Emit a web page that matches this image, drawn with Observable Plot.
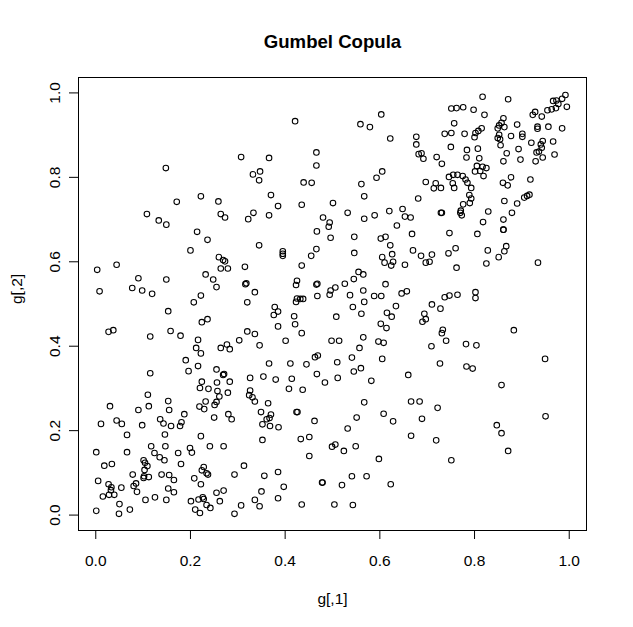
<!DOCTYPE html>
<html>
<head>
<meta charset="utf-8">
<script src="https://cdn.jsdelivr.net/npm/d3@7"></script>
<script src="https://cdn.jsdelivr.net/npm/@observablehq/plot@0.6"></script>
<style>
  html, body { margin: 0; padding: 0; background: #ffffff; }
  #chart svg { display: block; }
</style>
</head>
<body>
<div id="chart"></div>
<script>
const title = "Gumbel Copula";
const xLabel = "g[,1]";
const yLabel = "g[,2]";
const tickValues = [0, 0.2, 0.4, 0.6, 0.8, 1.0];

// g[,1] values
const g1 = [
0.307,0.148,0.171,0.222,0.259,0.108,0.133,0.149,0.264,0.273,0.322,
0.603,0.421,0.559,0.579,0.622,0.677,0.677,0.682,0.366,0.466,0.466,0.332,0.347,0.345,0.439,0.456,0.605,0.593,0.561,0.370,0.567,0.385,0.435,0.501,0.681,0.333,0.366,0.480,0.494,0.492,0.532,0.567,0.589,0.620,0.648,0.653,0.665,0.636,
0.817,0.871,0.992,0.985,0.995,0.966,0.973,0.977,0.963,0.972,0.954,0.751,0.762,0.776,0.798,0.821,0.928,0.923,0.942,0.861,0.857,0.852,0.863,0.849,0.852,0.849,0.854,0.757,0.890,0.933,0.933,0.956,0.985,0.737,0.751,0.779,0.815,0.808,0.802,0.800,0.877,0.901,0.901,0.920,0.944,0.940,0.966,0.750,0.784,0.807,0.855,0.868,0.893,0.931,0.936,0.942,0.969,0.688,0.692,0.720,0.731,0.783,0.810,0.805,0.817,0.825,0.812,0.801,0.819,0.861,0.897,0.929,0.944,0.697,0.718,0.714,0.729,0.746,0.755,0.764,0.775,0.781,0.785,0.754,0.757,0.793,0.789,0.793,0.790,0.776,0.771,0.770,0.773,0.729,0.731,0.860,0.877,0.870,0.918,0.916,0.911,0.905,0.890,0.863,0.829,0.879,0.818,0.861,0.861,
0.214,0.236,0.200,0.003,0.044,0.008,0.090,0.077,0.098,0.119,0.149,0.260,0.269,0.273,0.264,0.279,0.315,0.232,0.248,0.255,0.316,0.318,0.222,0.207,0.320,0.153,0.224,0.236,0.027,0.037,0.115,0.158,0.179,0.216,0.212,0.222,0.264,0.277,0.283,0.303,0.320,0.190,0.115,0.196,0.216,0.255,0.269,0.271,
0.467,0.496,0.546,0.602,0.612,0.668,0.345,0.395,0.395,0.395,0.466,0.455,0.546,0.622,0.626,0.605,0.610,0.628,0.624,0.653,0.670,0.435,0.555,0.565,0.545,0.425,0.423,0.466,0.468,0.336,0.506,0.496,0.494,0.526,0.468,0.537,0.565,0.588,0.603,0.612,0.646,0.657,0.425,0.432,0.438,0.423,0.567,0.543,0.561,0.378,0.385,0.376,0.419,0.421,0.385,0.508,0.634,0.615,0.625,0.602,0.614,0.435,0.336,0.346,0.401,0.498,0.514,0.565,0.597,0.608,0.557,0.541,0.605,0.469,0.463,0.366,0.411,0.445,0.510,0.467,0.545,0.560,0.660,0.354,0.414,0.511,0.582,0.326,0.380,
0.747,0.806,0.861,0.687,0.697,0.705,0.710,0.745,0.760,0.762,0.828,0.825,0.867,0.863,0.851,0.934,0.737,0.747,0.764,0.802,0.802,0.710,0.728,0.694,0.697,0.690,0.733,0.731,0.740,0.883,0.709,0.782,0.804,0.949,0.727,0.783,0.796,
0.224,0.256,0.283,0.220,0.238,0.257,0.261,0.279,0.324,0.326,0.110,0.030,0.112,0.090,0.153,0.155,0.232,0.219,0.229,0.251,0.255,0.011,0.044,0.055,0.098,0.066,0.136,0.143,0.159,0.146,0.181,0.178,0.187,0.250,0.280,0.287,0.222,0.001,0.066,0.147,0.117,0.124,0.135,0.145,0.174,0.199,0.203,0.241,0.270,0.018,0.034,0.101,0.104,0.109,0.103,0.180,0.228,0.224,0.234,0.237,0.005,0.027,0.033,0.032,0.039,0.028,0.015,0.054,0.078,0.080,0.085,0.087,0.101,0.102,0.112,0.139,0.155,0.165,0.153,0.165,0.208,0.222,0.293,0.313,0.105,0.125,0.149,0.001,0.050,0.049,0.072,0.201,0.217,0.226,0.228,0.234,0.242,0.210,0.220,0.255,0.270,0.262,0.293,0.307,
0.484,0.331,0.336,0.408,0.437,0.364,0.349,0.370,0.361,0.367,0.368,0.352,0.386,0.352,0.424,0.426,0.462,0.433,0.451,0.451,0.499,0.506,0.524,0.549,0.532,0.551,0.567,0.608,0.628,0.598,0.666,0.684,0.666,0.356,0.385,0.397,0.350,0.336,0.346,0.385,0.435,0.478,0.479,0.520,0.541,0.572,0.623,0.504,0.543,
0.857,0.722,0.689,0.950,0.847,0.857,0.719,0.871,0.751
];

// g[,2] values
const g2 = [
0.848,0.822,0.742,0.755,0.743,0.713,0.698,0.688,0.713,0.705,0.701,
0.949,0.933,0.926,0.919,0.892,0.896,0.878,0.855,0.846,0.859,0.828,0.807,0.814,0.793,0.788,0.787,0.814,0.799,0.784,0.758,0.755,0.732,0.735,0.739,0.750,0.716,0.710,0.705,0.693,0.683,0.716,0.702,0.710,0.720,0.725,0.707,0.705,0.686,
0.991,0.985,0.995,0.986,0.967,0.981,0.982,0.974,0.961,0.964,0.959,0.963,0.964,0.966,0.960,0.948,0.955,0.948,0.944,0.940,0.929,0.923,0.919,0.916,0.901,0.893,0.890,0.928,0.925,0.920,0.915,0.920,0.916,0.903,0.905,0.903,0.916,0.910,0.905,0.895,0.898,0.903,0.896,0.882,0.886,0.878,0.885,0.872,0.865,0.868,0.876,0.857,0.867,0.859,0.861,0.870,0.854,0.857,0.844,0.848,0.832,0.847,0.845,0.827,0.825,0.822,0.815,0.814,0.803,0.838,0.842,0.838,0.847,0.789,0.786,0.774,0.775,0.801,0.806,0.806,0.803,0.795,0.787,0.786,0.775,0.775,0.758,0.750,0.739,0.736,0.721,0.716,0.710,0.716,0.716,0.787,0.800,0.781,0.795,0.759,0.756,0.752,0.738,0.744,0.719,0.716,0.694,0.700,0.676,
0.671,0.652,0.627,0.581,0.593,0.530,0.561,0.538,0.532,0.524,0.558,0.611,0.604,0.601,0.584,0.584,0.588,0.570,0.558,0.540,0.547,0.549,0.520,0.504,0.504,0.483,0.457,0.464,0.434,0.438,0.423,0.436,0.425,0.415,0.396,0.383,0.396,0.404,0.393,0.414,0.435,0.367,0.336,0.341,0.353,0.345,0.332,0.334,
0.672,0.657,0.659,0.655,0.659,0.666,0.639,0.625,0.619,0.614,0.630,0.614,0.621,0.639,0.618,0.611,0.598,0.600,0.591,0.593,0.627,0.591,0.576,0.570,0.559,0.555,0.545,0.546,0.548,0.528,0.539,0.532,0.522,0.548,0.519,0.521,0.532,0.519,0.519,0.547,0.525,0.530,0.513,0.512,0.512,0.505,0.505,0.493,0.477,0.493,0.482,0.474,0.471,0.452,0.447,0.470,0.495,0.479,0.470,0.453,0.443,0.431,0.429,0.402,0.413,0.413,0.413,0.421,0.411,0.408,0.396,0.373,0.370,0.378,0.374,0.359,0.359,0.357,0.362,0.334,0.340,0.348,0.332,0.328,0.323,0.325,0.318,0.325,0.321,
0.668,0.666,0.676,0.614,0.598,0.600,0.617,0.620,0.632,0.586,0.627,0.596,0.637,0.625,0.611,0.598,0.516,0.520,0.522,0.528,0.514,0.499,0.489,0.477,0.464,0.458,0.439,0.431,0.413,0.438,0.400,0.405,0.402,0.370,0.359,0.352,0.347,
0.316,0.314,0.316,0.301,0.299,0.294,0.281,0.290,0.284,0.295,0.285,0.258,0.258,0.249,0.270,0.249,0.269,0.257,0.251,0.261,0.268,0.216,0.224,0.216,0.213,0.190,0.227,0.217,0.211,0.191,0.220,0.211,0.239,0.231,0.239,0.227,0.187,0.149,0.149,0.163,0.163,0.147,0.137,0.130,0.147,0.159,0.148,0.163,0.163,0.117,0.121,0.130,0.124,0.116,0.107,0.121,0.114,0.106,0.099,0.096,0.081,0.073,0.066,0.059,0.048,0.048,0.044,0.065,0.096,0.069,0.075,0.055,0.088,0.092,0.090,0.096,0.095,0.083,0.063,0.054,0.087,0.073,0.096,0.117,0.036,0.042,0.036,0.010,0.026,0.003,0.013,0.033,0.037,0.042,0.038,0.024,0.017,0.013,0.005,0.053,0.058,0.033,0.003,0.023,
0.314,0.279,0.269,0.299,0.297,0.265,0.244,0.238,0.227,0.230,0.211,0.215,0.208,0.178,0.244,0.244,0.223,0.180,0.185,0.140,0.162,0.167,0.152,0.163,0.205,0.231,0.267,0.240,0.222,0.133,0.269,0.269,0.188,0.093,0.102,0.067,0.056,0.036,0.021,0.040,0.025,0.077,0.077,0.071,0.092,0.092,0.073,0.025,0.024,
0.308,0.254,0.228,0.234,0.213,0.194,0.177,0.152,0.130
];

const n = Math.min(g1.length, g2.length);
const points = d3.range(n).map(i => ({x: g1[i], y: g2[i]}));

const font = "'Liberation Sans', Arial, Helvetica, sans-serif";

const chart = Plot.plot({
  width: 633,
  height: 627,
  marginLeft: 78,
  marginRight: 47,
  marginTop: 77,
  marginBottom: 97,
  style: {fontFamily: font, color: "black", background: "white", fontSize: "15.5px"},
  x: {domain: [-0.0365, 1.0365]},
  y: {domain: [-0.0365, 1.0365]},
  marks: [
    Plot.frame({stroke: "black", strokeWidth: 1}),
    Plot.axisX({ticks: tickValues, tickFormat: d => d.toFixed(1), tickSize: 9, tickPadding: 15, label: null, fontSize: 15.5}),
    Plot.axisY({ticks: tickValues, tickFormat: d => d.toFixed(1), tickSize: 9, tickPadding: 10, tickRotate: -90, textAnchor: "middle", lineAnchor: "bottom", label: null, fontSize: 15.5}),
    Plot.dot(points, {x: "x", y: "y", r: 2.8, stroke: "black", strokeWidth: 1.05, fill: "none"}),
    Plot.text([title], {frameAnchor: "top", dy: -35, text: d => d, fontSize: 18.6, fontWeight: "bold", lineAnchor: "middle"}),
    Plot.text([xLabel], {frameAnchor: "bottom", dy: 69, text: d => d, fontSize: 15.5, lineAnchor: "middle"}),
    Plot.text([yLabel], {frameAnchor: "left", dx: -61, rotate: -90, text: d => d, fontSize: 15.5, lineAnchor: "middle"})
  ]
});
document.getElementById("chart").appendChild(chart);
</script>
</body>
</html>
